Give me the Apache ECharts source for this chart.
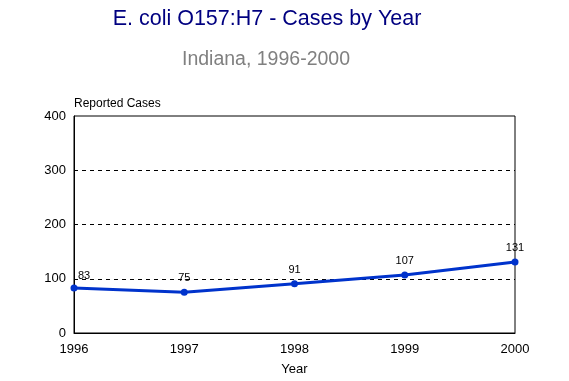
<!DOCTYPE html>
<html><head><meta charset="utf-8">
<script src="https://cdn.jsdelivr.net/npm/echarts@6/dist/echarts.min.js"></script>
<style>html,body{margin:0;padding:0;background:#fff}#c{width:569px;height:381px}</style>
</head><body><div id="c"></div>
<script>
const years = ['1996','1997','1998','1999','2000'];
const cases = [83, 75, 91, 107, 131];
const yTicks = [0, 100, 200, 300, 400];

const chart = echarts.init(document.getElementById('c'), null, {renderer:'canvas'});
const font = 'Arial, "Liberation Sans", sans-serif';
chart.setOption({
  backgroundColor:'#fff',
  animation:false,
  title:[
    {text:'E. coli O157:H7 - Cases by Year', left:262, textAlign:'center', top:3,
     textStyle:{color:'#000080', fontSize:21.5, fontWeight:'normal', fontFamily:font}},
    {text:'Indiana, 1996-2000', left:261, textAlign:'center', top:45,
     textStyle:{color:'#808080', fontSize:19.5, fontWeight:'normal', fontFamily:font}}
  ],
  grid:{left:74, right:54, top:116, bottom:47, show:true, borderColor:'#000', borderWidth:1},
  xAxis:{type:'category', data:years, boundaryGap:false,
    name:'Year', nameLocation:'middle', nameGap:30,
    nameTextStyle:{color:'#000', fontSize:13, fontFamily:font},
    axisLine:{lineStyle:{color:'#000'}}, axisTick:{show:false},
    axisLabel:{color:'#000', fontSize:13, fontFamily:font, margin:10},
    splitLine:{show:false}},
  yAxis:{type:'value', min:yTicks[0], max:yTicks[yTicks.length-1], interval:100,
    name:'Reported Cases', nameLocation:'end', nameGap:6,
    nameTextStyle:{color:'#000', fontSize:12, fontFamily:font, align:'left'},
    axisLine:{show:true, lineStyle:{color:'#000'}}, axisTick:{show:false},
    axisLabel:{color:'#000', fontSize:13, fontFamily:font, margin:8},
    splitLine:{show:true, showMinLine:false, showMaxLine:false, lineStyle:{color:'#000', type:[4,4], width:1}}},
  series:[{type:'line', data:cases.map((v,i)=>({value:v, label: i===0 ? {offset:[10,2]} : {}})),
    color:'#0033cc',
    lineStyle:{color:'#0033cc', width:3},
    symbol:'circle', symbolSize:7, itemStyle:{color:'#0033cc'},
    label:{show:true, position:'top', distance:5, color:'#000', fontSize:11, fontFamily:font}}]
});
</script></body></html>
